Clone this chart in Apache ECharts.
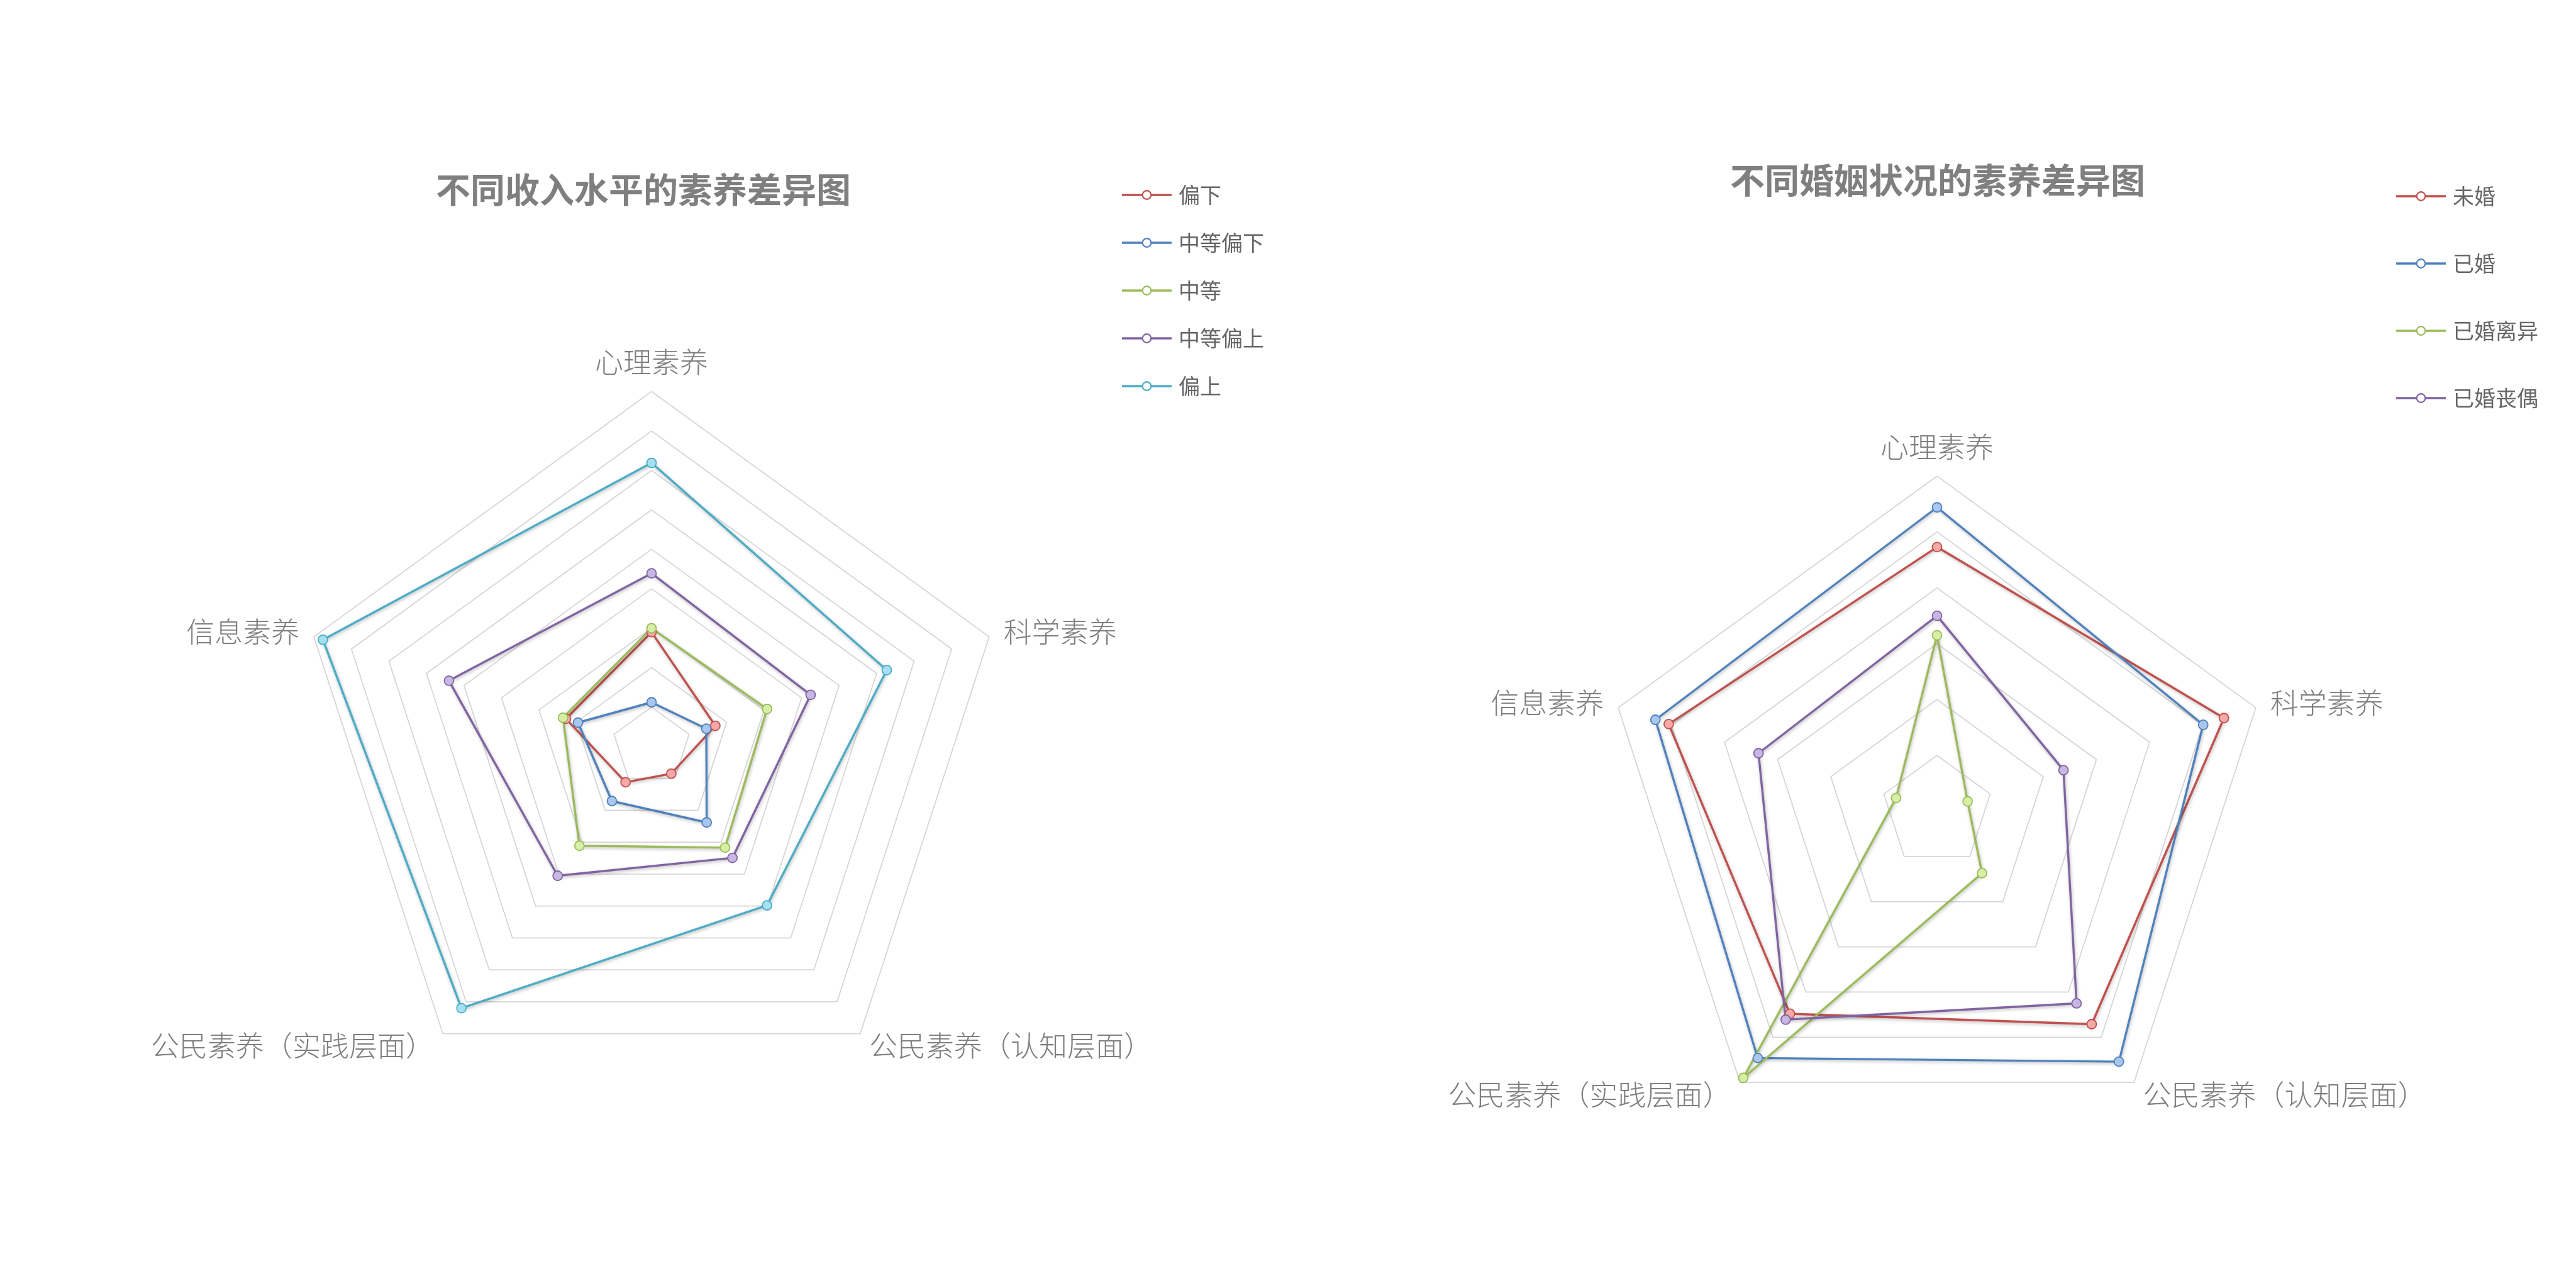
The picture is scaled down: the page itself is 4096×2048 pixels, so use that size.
<!DOCTYPE html>
<html>
<head>
<meta charset="utf-8">
<script src="https://cdn.jsdelivr.net/npm/echarts@6/dist/echarts.min.js"></script>
<style>
html,body{margin:0;padding:0;background:#fff;}
#main{width:4096px;height:2048px;}
</style>
</head>
<body>
<div id="main"></div>
<script>
// Axis categories (listed counter-clockwise from the top, as ECharts places them)
const dims = ['心理素养', '信息素养', '公民素养（实践层面）', '公民素养（认知层面）', '科学素养'];

// Chart 1: 不同收入水平的素养差异图 (scale 0..9, one ring per unit)
const incomeTitle = '不同收入水平的素养差异图';
const incomeNames = ['偏下', '中等偏下', '中等', '中等偏上', '偏上'];
const income_low      = [2.90, 2.28, 1.12, 0.85, 1.70];
const income_midLow   = [1.12, 1.96, 1.71, 2.38, 1.46];
const income_mid      = [3.00, 2.36, 3.11, 3.17, 3.08];
const income_midHigh  = [4.39, 5.40, 4.05, 3.49, 4.24];
const income_high     = [7.19, 8.76, 8.20, 4.98, 6.27];
const incomeMax = 9;

// Chart 2: 不同婚姻状况的素养差异图 (scale 0..6, one ring per unit)
const maritalTitle = '不同婚姻状况的素养差异图';
const maritalNames = ['未婚', '已婚', '已婚离异', '已婚丧偶'];
const marital_single   = [4.73, 5.05, 4.48, 4.71, 5.40];
const marital_married  = [5.44, 5.30, 5.46, 5.54, 5.01];
const marital_divorced = [3.15, 0.77, 5.90, 1.37, 0.575];
const marital_widowed  = [3.50, 3.36, 4.61, 4.25, 2.38];
const maritalMax = 6;

const incomeValues = [income_low, income_midLow, income_mid, income_midHigh, income_high];
const maritalValues = [marital_single, marital_married, marital_divorced, marital_widowed];

// styling
const FONT = '"Noto Sans CJK SC", "Noto Sans", sans-serif';
const lineColors = ['#c0504d', '#4f81bd', '#9bbb59', '#8064a2', '#4bacc6'];
const fillColors = ['#f4a9a7', '#a9c6ee', '#d6efa6', '#c8b7e3', '#a6e0f0'];
const legendIcon = 'path://M0,6.3L32.5,6.3L32.5,9.7L0,9.7Z M47.5,6.3L80,6.3L80,9.7L47.5,9.7Z M32,8A8,8,0,1,1,48,8A8,8,0,1,1,32,8Z M34.2,8A5.8,5.8,0,1,0,45.8,8A5.8,5.8,0,1,0,34.2,8Z';

function radarCfg(center, radius, max, split) {
  return {
    center: center,
    radius: radius,
    startAngle: 90,
    shape: 'polygon',
    splitNumber: split,
    nameGap: 24,
    indicator: dims.map(n => ({ name: n, min: 0, max: max })),
    axisName: { color: '#7f7f7f', fontSize: 45, fontFamily: FONT, fontWeight: 300 },
    splitLine: { lineStyle: { color: '#d6d6d6', width: 1.8 } },
    splitArea: { show: false },
    axisLine: { show: false },
    axisTick: { show: false },
    axisLabel: { show: false }
  };
}

function makeSeries(names, values, radarIndex) {
  return names.map((n, i) => ({
    type: 'radar',
    name: n,
    radarIndex: radarIndex,
    symbol: 'circle',
    symbolSize: 15,
    lineStyle: {
      color: lineColors[i], width: 3.4,
      shadowColor: 'rgba(0,0,0,0.28)', shadowBlur: 5, shadowOffsetX: 1, shadowOffsetY: 2
    },
    itemStyle: { color: fillColors[i], borderColor: lineColors[i], borderWidth: 1.8 },
    data: [{ name: n, value: values[i] }]
  }));
}

function legendCfg(names, left, top, gap) {
  return {
    orient: 'vertical',
    left: left,
    top: top,
    itemWidth: 79,
    itemHeight: 16,
    itemGap: gap,
    icon: legendIcon,
    textStyle: { color: '#666666', fontSize: 34, fontFamily: FONT, padding: [0, 0, 0, 6] },
    data: names.map((n, i) => ({ name: n, icon: legendIcon, itemStyle: { color: lineColors[i], borderWidth: 0 } }))
  };
}

const chart = echarts.init(document.getElementById('main'), null, { renderer: 'canvas' });
chart.setOption({
  backgroundColor: '#ffffff',
  animation: false,
  title: [
    { text: incomeTitle, left: 693, top: 274, padding: 0,
      textStyle: { color: '#7f7f7f', fontSize: 55, fontWeight: 'bold', fontFamily: FONT } },
    { text: maritalTitle, left: 2751, top: 259, padding: 0,
      textStyle: { color: '#7f7f7f', fontSize: 55, fontWeight: 'bold', fontFamily: FONT } }
  ],
  legend: [
    legendCfg(incomeNames, 1779, 288, 42),
    legendCfg(maritalNames, 3805, 290, 73)
  ],
  radar: [
    radarCfg([1036, 1187], 564.5, incomeMax, 9),
    radarCfg([3080, 1290], 533, maritalMax, 6)
  ],
  series: [].concat(makeSeries(incomeNames, incomeValues, 0), makeSeries(maritalNames, maritalValues, 1))
});
</script>
</body>
</html>
